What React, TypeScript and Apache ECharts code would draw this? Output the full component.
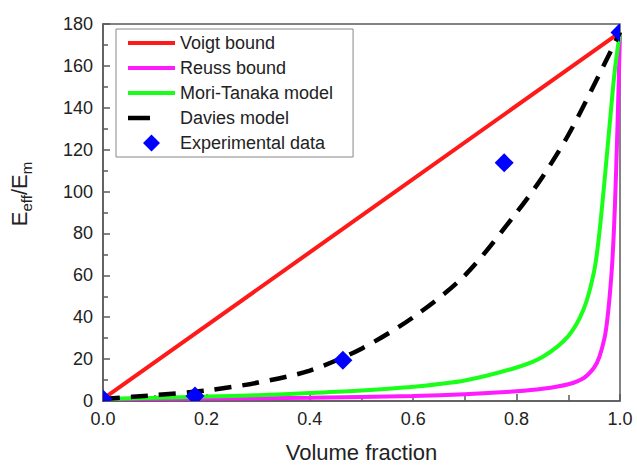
import React, { useEffect, useRef } from 'react';
import * as echarts from 'echarts';

const FONT = 'Arial, "Liberation Sans", sans-serif';

const seriesNames = ['Voigt bound', 'Reuss bound', 'Mori-Tanaka model', 'Davies model', 'Experimental data'];

const voigtX = [0, 0.5, 1.0];
const voigtY = [1, 88.5, 176];

const reussX = [0, 0.2, 0.4, 0.6, 0.7, 0.8, 0.85, 0.9, 0.93, 0.95, 0.96, 0.97, 0.975, 0.98, 0.985, 0.99, 0.995, 1.0];
const reussY = [1, 1.2, 1.6, 2.4, 3.2, 4.6, 5.8, 8, 11, 16, 21, 30, 38, 50, 66, 92, 130, 176];

const moriX = [0, 0.1, 0.2, 0.3, 0.4, 0.5, 0.6, 0.7, 0.8, 0.85, 0.9, 0.93, 0.95, 0.96, 0.97, 0.98, 0.99, 1.0];
const moriY = [1, 1.5, 2.1, 2.8, 3.8, 5.0, 6.8, 9.8, 16, 21, 31, 44, 62, 80, 105, 132, 158, 176];

const daviesX = [0, 0.1, 0.2, 0.3, 0.4, 0.5, 0.6, 0.7, 0.8, 0.85, 0.9, 0.95, 1.0];
const daviesY = [1, 2.8, 5, 8.8, 14.5, 25, 40, 60, 90, 107, 127, 151, 176];

const expX = [0, 0.178, 0.464, 0.776, 1.0];
const expY = [1, 2.4, 19.4, 113.7, 176];

const pairs = (xs: number[], ys: number[]) => xs.map((x, i) => [x, ys[i]]);

// legend icons (47 x 17 boxes)
const ICON_LINE = 'path://M0,0L0,17M47,0L47,17M0,6.5H47V10.5H0Z';
const ICON_DASH = 'path://M0,0L0,17M47,0L47,17M0,6.25H22V10.75H0Z';
const ICON_DIAMOND = 'path://M0,0L0,17M47,0L47,17M23.5,0L32,8.5L23.5,17L15,8.5Z';

const DIAMOND_HALF = 9.5;

export default function App() {
  const ref = useRef<HTMLDivElement>(null);
  useEffect(() => {
    if (!ref.current) return;
    const chart = echarts.init(ref.current, undefined, { renderer: 'svg' });
    const axisColor = '#5a5a5a';
    const lineSeries = (name: string, data: number[][], color: string, extra: any = {}) => ({
      name,
      type: 'line',
      data,
      symbol: 'none',
      smooth: extra.smooth ?? 0.3,
      clip: true,
      lineStyle: { color, width: 4, ...(extra.lineStyle || {}) },
      itemStyle: { color },
      z: extra.z || 2,
    });
    chart.setOption({
      animation: false,
      backgroundColor: '#fff',
      grid: {
        left: 103,
        right: 17,
        top: 24,
        bottom: 64,
        show: true,
        borderColor: axisColor,
        borderWidth: 1.5,
        backgroundColor: 'transparent',
      },
      legend: {
        orient: 'vertical',
        left: 116,
        top: 29,
        padding: [5, 20, 5, 12],
        itemWidth: 47,
        itemHeight: 17,
        itemGap: 7,
        borderColor: '#888',
        borderWidth: 1,
        borderRadius: 0,
        backgroundColor: '#fff',
        itemStyle: { borderWidth: 0 },
        textStyle: { fontFamily: FONT, fontSize: 18, color: '#222' },
        data: [
          { name: seriesNames[0], icon: ICON_LINE },
          { name: seriesNames[1], icon: ICON_LINE },
          { name: seriesNames[2], icon: ICON_LINE },
          { name: seriesNames[3], icon: ICON_DASH },
          { name: seriesNames[4], icon: ICON_DIAMOND, itemStyle: { color: '#0000ff' } },
        ],
      },
      xAxis: {
        type: 'value',
        min: 0,
        max: 1,
        interval: 0.2,
        name: 'Volume fraction',
        nameLocation: 'middle',
        nameGap: 40,
        nameTextStyle: { fontFamily: FONT, fontSize: 22, color: '#222' },
        axisLine: { show: true, lineStyle: { color: axisColor, width: 1.5 } },
        axisTick: { show: true, inside: true, length: 7, lineStyle: { color: axisColor, width: 1.5 } },
        minorTick: { show: true, splitNumber: 2, length: 6, lineStyle: { color: axisColor, width: 1.5 } },
        splitLine: { show: false },
        axisLabel: {
          margin: 9,
          fontFamily: FONT,
          fontSize: 18,
          color: '#222',
          formatter: (v: number) => v.toFixed(1),
        },
      },
      yAxis: {
        type: 'value',
        min: 0,
        max: 180,
        interval: 20,
        axisLine: { show: true, lineStyle: { color: axisColor, width: 1.5 } },
        axisTick: { show: true, inside: true, length: 7, lineStyle: { color: axisColor, width: 1.5 } },
        minorTick: { show: true, splitNumber: 2, length: 5, lineStyle: { color: axisColor, width: 1.5 } },
        splitLine: { show: false },
        axisLabel: { margin: 10, fontFamily: FONT, fontSize: 18, color: '#222' },
      },
      graphic: [
        {
          type: 'text',
          x: 21,
          y: 194,
          rotation: Math.PI / 2,
          style: {
            text: '{a|E}{b|eff}{a|/E}{b|m}',
            align: 'center',
            verticalAlign: 'middle',
            fill: '#222',
            rich: {
              a: { fontFamily: FONT, fontSize: 22, fill: '#222', verticalAlign: 'bottom', padding: [0, 0, 4, 0] },
              b: { fontFamily: FONT, fontSize: 15, fill: '#222', verticalAlign: 'bottom' },
            },
          },
        },
      ],
      series: [
        lineSeries(seriesNames[0], pairs(voigtX, voigtY), '#ff1a1a', { z: 3, smooth: false }),
        lineSeries(seriesNames[1], pairs(reussX, reussY), '#ff1aff', { z: 2 }),
        lineSeries(seriesNames[2], pairs(moriX, moriY), '#1aff1a', { z: 2 }),
        lineSeries(seriesNames[3], pairs(daviesX, daviesY), '#000000', {
          z: 4,
          lineStyle: { type: [17, 11], width: 4.5 },
        }),
        {
          name: seriesNames[4],
          type: 'custom',
          data: pairs(expX, expY),
          clip: true,
          itemStyle: { color: '#0000ff' },
          z: 5,
          encode: { x: 0, y: 1 },
          renderItem: (params: any, api: any) => {
            const p = api.coord([api.value(0), api.value(1)]);
            const h = DIAMOND_HALF;
            return {
              type: 'polygon',
              shape: {
                points: [
                  [p[0], p[1] - h],
                  [p[0] + h, p[1]],
                  [p[0], p[1] + h],
                  [p[0] - h, p[1]],
                ],
              },
              style: { fill: '#0000ff' },
            };
          },
        },
      ],
    });
    return () => chart.dispose();
  }, []);
  return <div ref={ref} style={{ position: 'fixed', left: 0, top: 0, width: 637, height: 468 }} />;
}
